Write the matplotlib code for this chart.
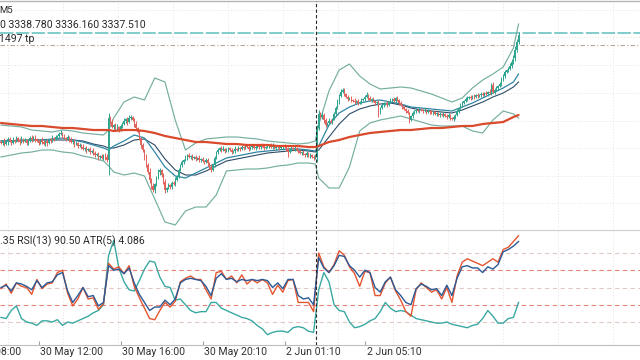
import matplotlib
matplotlib.use("Agg")
import matplotlib.pyplot as plt
import matplotlib.transforms as mtransforms
import numpy as np

plt.rcParams['font.family'] = ['Roboto', 'DejaVu Sans']

# ---------------- data ----------------
open_first = 3326.8
close = [
    3326.7,3326.9,3326.6,3326.8,3327.1,3326.9,3326.7,3327.0,3326.9,3327.2,3327.0,3326.8,3327.1,3326.9,3327.0,3326.7,3326.9,3327.2,3327.0,3327.3,3327.1,3326.9,3326.7,3327.0,3326.8,3326.6,3326.9,3326.7,3327.0,3326.9,3327.2,3327.1,3327.3,3327.4,3327.6,3327.7,3327.4,
    3327.2,3327.1,3327.3,3327.0,3326.8,3326.9,3326.6,3326.7,3326.4,3326.5,3326.3,3326.1,3326.2,3326.0,3326.1,3325.8,3325.9,3325.7,3325.5,3325.6,3325.3,3325.4,3325.2,3325.5,3325.3,
    3325.0,3329.2,
    3328.8,3328.3,3328.5,3328.1,3328.3,3328.0,3328.4,3328.6,3328.9,3329.1,3328.8,3329.2,3329.3,3329.0,3328.6,
    3328.2,3327.8,3327.2,3326.5,3326.0,3325.3,3324.5,3323.8,3323.0,3322.4,3322.0,
    3322.6,3323.2,3323.8,3324.0,3323.5,3322.8,3322.0,3322.2,3322.5,3322.3,3322.7,3322.6,3323.0,3323.4,
    3324.0,3324.5,3324.8,3325.0,3325.2,3325.5,3325.3,3325.4,3325.2,3325.3,3325.1,3325.2,3325.0,
    3325.1,3324.9,3324.8,3325.0,3324.7,3324.3,3324.0,3324.5,3325.2,
    3325.8,3326.0,3326.2,3326.0,3326.1,3325.9,3326.0,3326.2,3326.0,3325.8,3325.9,3326.1,3326.0,3326.2,3326.1,
    3326.3,3326.2,3326.4,3326.3,3326.1,3326.3,3326.4,3326.2,3326.3,3326.4,3326.3,3326.5,3326.4,3326.2,3326.3,3326.4,3326.5,3326.3,3326.4,3326.2,3326.3,3326.4,3326.2,3326.3,3326.4,3326.3,3326.1,3325.8,3326.1,3326.2,
    3326.1,3326.2,3326.0,3325.9,3325.7,3325.8,3325.6,3325.5,3325.7,3325.4,3325.5,3325.3,3325.2,3325.5,
    3328.2,3329.6,
    3329.3,3329.5,3329.0,3328.5,3328.7,3328.9,3328.8,3329.1,3329.6,
    3330.2,3330.8,3331.4,3331.8,3332.0,3331.6,3331.3,
    3331.1,3331.2,3331.0,3330.9,3330.8,3330.9,3330.7,3330.8,3331.0,3331.1,3331.3,3331.5,3331.2,3331.0,3331.1,3330.9,3330.7,3330.8,
    3329.8,3330.2,3330.5,3330.6,3330.7,3330.5,3330.8,3331.0,3331.1,3330.9,3331.2,3331.0,3330.7,3330.5,3330.3,3330.1,3329.9,3329.7,3329.0,3329.4,
    3329.7,3329.9,3330.0,3329.9,3330.1,3330.0,3329.9,3330.0,3329.8,3329.9,3329.8,3329.7,3329.8,3329.6,3329.7,3329.5,3329.6,
    3329.5,3329.6,3329.4,3329.3,3329.5,3329.2,3329.1,3329.3,3329.5,
    3329.9,3330.2,3330.5,3330.7,3330.9,3331.1,3331.2,3331.3,3331.2,3331.4,3331.3,3331.5,3331.4,3331.5,
    3331.6,3331.5,3331.7,3331.6,3331.8,3331.7,3332.5,3331.8,3332.0,3332.2,3332.4,3332.6,3333.0,3333.4,3333.8,3334.0,3334.1,3334.4,3334.8,3335.2,3336.0,3336.8,3337.5,
]
# wick lengths in tenths of a dollar
wick_up = [
    2,1,3,1,2,2,1,3,1,2,1,2,3,1,2,1,1,2,3,1,2,1,2,1,3,2,1,2,1,2,3,1,2,1,2,3,1,2,
    1,2,1,3,1,2,2,1,2,1,3,1,2,1,2,1,3,2,1,2,1,2,1,2,3,5,2,3,1,2,3,1,2,2,3,1,2,3,
    2,1,2,3,1,2,1,2,1,3,2,4,2,3,1,2,3,2,1,2,3,1,2,1,2,2,3,1,2,1,2,1,3,1,2,1,2,1,
    2,1,3,1,2,1,2,2,1,3,1,2,1,2,1,2,3,1,2,1,1,2,1,3,1,2,1,2,1,1,2,3,1,2,1,2,1,2,
    1,2,1,1,2,1,2,3,1,2,1,1,2,1,2,1,2,1,2,1,2,1,1,2,1,2,1,2,1,2,1,2,1,3,4,2,3,2,
    2,1,3,2,1,2,2,3,2,3,2,2,1,2,1,2,1,3,1,2,1,2,1,2,3,1,2,1,2,1,1,2,1,2,2,1,2,1,
    2,1,2,1,2,1,2,1,2,1,2,1,1,2,1,2,1,2,1,1,2,1,2,1,2,1,2,1,1,2,1,2,1,2,2,1,1,2,
    1,2,1,2,2,1,2,2,1,2,1,2,1,2,1,2,2,1,2,1,3,2,3,2,2,1,2,3,2,2,1,2,3,3,3,4,3,3,
]
wick_dn = [
    1,2,2,1,3,1,2,1,2,1,2,3,1,2,1,2,2,1,2,1,3,1,2,1,2,1,2,3,1,2,1,2,1,2,1,1,2,1,
    2,1,2,1,2,3,1,2,1,2,1,2,3,1,2,1,2,2,1,3,2,1,2,3,2,15,2,1,3,2,1,2,1,2,1,2,3,1,
    2,1,3,2,1,2,3,2,3,2,2,3,3,2,3,2,1,3,2,2,3,2,1,2,2,1,2,1,2,1,2,2,1,2,1,2,2,1,
    2,1,2,2,1,2,1,3,2,2,1,2,1,2,1,2,1,2,1,2,1,2,1,2,1,1,2,1,2,1,1,2,1,2,1,2,1,2,
    2,1,2,1,1,2,1,2,1,2,1,2,1,2,1,2,5,1,2,1,2,1,2,1,2,1,2,2,1,2,1,2,1,7,2,1,2,3,
    2,1,2,1,2,1,2,1,2,1,1,2,1,2,1,2,1,2,1,2,1,2,1,2,1,2,1,2,1,2,2,5,2,1,2,1,2,1,
    1,2,1,2,1,2,1,2,1,2,1,3,1,2,1,2,1,2,1,2,1,2,1,2,1,2,1,2,1,2,1,2,1,2,1,2,1,2,
    2,1,2,1,2,1,1,2,1,2,1,2,1,2,1,2,1,2,1,2,1,2,1,2,1,2,1,2,1,2,1,2,1,2,2,3,2,2,
]

# overlay indicator samples (bar index -> price)
ov_bars = [0,6,12,18,24,30,36,42,48,54,60,63,66,72,78,84,90,96,102,108,114,120,126,132,138,
           144,150,156,162,168,174,180,184,186,192,198,204,210,216,222,228,234,240,246,252,
           258,264,270,276,282,288,294,300,303]
bb_upper = [3328.5,3328.4,3328.3,3328.0,3327.9,3327.8,3328.0,3327.9,3327.7,3327.6,3327.5,3328.0,
            3329.2,3330.8,3331.3,3331.0,3333.2,3332.8,3329.0,3326.0,3326.7,3327.1,3327.2,3327.3,3327.3,
            3327.2,3327.1,3326.9,3326.8,3326.7,3326.6,3326.7,3326.9,
            3328.5,3331.9,3334.0,3334.6,3333.4,3332.6,3332.1,3332.2,3332.3,3332.2,3331.9,3331.6,
            3331.2,3330.8,3331.2,3332.2,3333.0,3333.6,3334.3,3336.2,3338.6]
bb_lower = [3325.3,3325.5,3325.7,3325.8,3326.0,3326.0,3325.8,3325.7,3325.4,3325.2,3324.9,3324.4,
            3323.8,3323.5,3323.7,3323.4,3321.1,3318.8,3318.5,3319.9,3320.3,3320.3,3321.5,3323.9,3324.0,
            3324.1,3324.1,3324.2,3324.4,3324.5,3324.7,3324.7,3324.6,
            3323.2,3322.2,3322.2,3324.3,3327.9,3328.7,3329.0,3329.2,3329.4,3329.1,3328.8,3328.5,
            3328.4,3328.4,3328.4,3327.9,3327.7,3329.0,3329.9,3329.6,3329.2]
ma_fast = [3326.9,3326.9,3327.0,3327.0,3327.0,3327.1,3327.2,3327.0,3326.8,3326.5,3326.2,3326.0,
           3326.4,3326.9,3327.5,3327.2,3325.8,3324.3,3323.4,3323.2,3323.7,3324.2,3324.7,3325.2,3325.4,
           3325.6,3325.8,3325.9,3326.0,3326.1,3326.1,3326.0,3325.9,
           3326.4,3328.5,3329.7,3330.3,3330.7,3330.9,3331.0,3330.8,3330.6,3330.3,3330.2,3330.1,
           3330.0,3329.9,3330.3,3330.7,3331.2,3331.7,3332.2,3332.8,3333.6]
ma_slow = [3326.9,3326.9,3326.9,3327.0,3327.0,3327.0,3327.0,3327.0,3326.9,3326.6,3326.4,3326.2,
           3326.2,3326.5,3327.0,3327.1,3326.5,3325.1,3324.0,3323.5,3323.5,3323.9,3324.4,3324.9,3325.1,
           3325.3,3325.5,3325.7,3325.8,3325.9,3326.0,3325.9,3325.8,
           3326.0,3327.3,3328.6,3329.6,3330.1,3330.4,3330.6,3330.7,3330.5,3330.2,3330.0,3329.9,
           3329.8,3329.7,3330.0,3330.4,3330.8,3331.3,3331.7,3332.3,3332.8]
ma_long = [3328.7,3328.6,3328.5,3328.4,3328.4,3328.3,3328.2,3328.2,3328.1,3328.0,3328.0,3328.0,
           3327.9,3328.0,3328.0,3327.9,3327.7,3327.4,3327.2,3327.0,3326.8,3326.8,3326.7,3326.6,3326.6,
           3326.5,3326.5,3326.5,3326.4,3326.4,3326.4,3326.3,3326.3,
           3326.4,3326.8,3327.0,3327.3,3327.5,3327.7,3327.8,3327.9,3328.0,3328.0,3328.1,3328.2,
           3328.2,3328.3,3328.4,3328.4,3328.6,3328.7,3328.8,3329.3,3329.5]

# oscillator panel, sampled every 3 bars
osc_bars = list(range(0, 304, 3))
rsi_red = [49,53,45,54,51,50,44,57,49,53, 54,63,65,45,34,40,50,40,41,31,
           36,71,66,68,62,69,51,41,32,23, 22,30,37,33,38,55,58,60,57,57,
           48,40,63,64,57,60,54,61,53,57, 54,57,54,44,52,46,56,57,37,37,
           37,29,80,68,63,70,82,78,68,62, 51,64,63,43,43,54,59,47,39,29,
           25,48,54,50,46,48,40,50,37,60, 72,75,73,71,69,72,75,72,83,85, 90,95]
rsi_blue = [50,52,47,54,53,51,48,56,50,54, 55,61,63,47,37,43,50,42,43,34,
            37,69,65,66,62,67,54,44,37,30, 33,33,39,35,40,54,57,58,57,56,
            51,43,58,62,57,58,55,57,56,57, 56,57,56,50,54,49,57,57,43,40,
            41,35,76,67,63,69,78,77,69,65, 59,65,63,50,46,55,59,48,43,37,
            35,49,53,51,48,49,43,52,43,58, 68,69,67,67,63,68,66,70,81,83, 86,90]
atr_teal = [24,23,30,34,23,20,19,17,21,21, 20,22,17,20,19,21,23,25,28,30,
            35,78,91,67,55,48,47,56,66,73, 72,59,51,50,39,40,35,30,28,29,
            29,37,37,32,30,28,26,24,23,21, 17,14,9,11,12,12,11,15,16,15,
            12,11,48,63,55,35,30,29,20,15, 16,18,21,23,29,37,32,29,30,29,
            26,23,22,21,20,19,19,20,18,17, 16,15,17,18,23,30,25,19,19,23, 24,37]
levels_red = [35, 65]
levels_gray = [20, 50, 80]

tick_bars = [-26, 22, 70, 118, 166, 213]
tick_labels = ['30 May 08:00', '30 May 12:00', '30 May 16:00', '30 May 20:10',
               '2 Jun 01:10', '2 Jun 05:10']
bid_price = 3337.7
tp_price = 3336.5
session_break = 184.5

header_tf = 'M5'
header_ohlc = '0 3338.780 3336.160 3337.510'
header_tp = '1497 tp'
header_osc = '.35 RSI(13) 90.50 ATR(5) 4.086'

# ---------------- styling ----------------
BULL = '#2fa58f'
BEAR = '#e2635c'
BB_C = '#74ae9f'
FAST_C = '#2f86a3'
SLOW_C = '#2e4c66'
LONG_C = '#da4a2c'
GRID_C = '#e3e3e3'
grid_bars = [4.1, 36.3, 68.5, 100.7, 132.9, 165.1, 197.3, 229.5, 261.7, 293.9, 326.1, 358.3]
grid_prices = [3340.0, 3337.3, 3334.5, 3331.7, 3328.9, 3326.2, 3323.4, 3320.7]

W, H = 640, 360
fig = plt.figure(figsize=(W / 100, H / 100), dpi=100)
fig.patch.set_facecolor('white')
ax = fig.add_axes([0, 1 - 229 / H, 1, 228 / H])
ax2 = fig.add_axes([0, 1 - 345 / H, 1, 115 / H])

for a in (ax, ax2):
    a.set_xlim(-0.585, 374.1)
    a.set_facecolor('white')
    for s in a.spines.values():
        s.set_visible(False)
    a.set_yticks([])
    for gb in grid_bars:
        a.axvline(gb, color=GRID_C, lw=0.7, ls=(0, (1, 2)), zorder=0)

ax.set_ylim(3318.1, 3340.9)
ax2.set_ylim(0, 100)
ax.set_xticks([])
ax.spines['top'].set_visible(True)
ax.spines['top'].set_color('#b5b5b5')
ax.spines['top'].set_linewidth(1.0)
ax2.spines['top'].set_visible(True)
ax2.spines['top'].set_color('#cfcfcf')
ax2.spines['top'].set_linewidth(0.8)
ax2.spines['bottom'].set_visible(True)
ax2.spines['bottom'].set_color('#bdbdbd')
ax2.spines['bottom'].set_linewidth(0.8)

for gp in grid_prices:
    ax.axhline(gp, color=GRID_C, lw=0.7, ls=(0, (1, 2)), zorder=0)

# horizontal trade lines
ax.axhline(bid_price, color='#6cc4c4', lw=1.2, ls=(0, (8, 1.5)), zorder=2)
ax.axhline(tp_price, color='#b9a394', lw=0.8, ls=(0, (4, 2, 1, 2)), zorder=2)

# overlays
ax.plot(ov_bars, bb_upper, color=BB_C, lw=0.85, zorder=3)
ax.plot(ov_bars, bb_lower, color=BB_C, lw=0.85, zorder=3)
ax.plot(ov_bars, ma_slow, color=SLOW_C, lw=0.8, zorder=3)
ax.plot(ov_bars, ma_fast, color=FAST_C, lw=0.9, zorder=3)

# candles
c = np.array(close)
o = np.r_[open_first, c[:-1]]
x = np.arange(len(c))
hi = np.maximum(o, c) + np.array(wick_up[:len(c)]) / 10.0
lo = np.minimum(o, c) - np.array(wick_dn[:len(c)]) / 10.0
cols = np.where(c >= o, BULL, BEAR)
ax.vlines(x, lo, hi, colors=cols, lw=0.7, zorder=4)
body = np.maximum(np.abs(c - o), 0.06)
ax.bar(x, body, bottom=np.minimum(o, c), width=0.75, color=cols, linewidth=0, zorder=4)

ax.plot(ov_bars, ma_long, color=LONG_C, lw=1.6, zorder=5, solid_capstyle='round')

# oscillator panel
for lv in levels_gray:
    ax2.axhline(lv, color='#e2c9c6', lw=0.8, ls=(0, (4, 3)), zorder=1)
for lv in levels_red:
    ax2.axhline(lv, color='#e6837a', lw=0.8, ls=(0, (4, 3)), zorder=1)
ax2.plot(osc_bars, atr_teal, color='#3aa8a2', lw=1.0, zorder=3)
ax2.plot(osc_bars, rsi_red, color='#e4552f', lw=1.0, zorder=3)
ax2.plot(osc_bars, rsi_blue, color='#2b5a96', lw=1.0, zorder=4)

# session separator
for a in (ax, ax2):
    a.axvline(session_break, color='#2a2a2a', lw=0.8, ls=(0, (3, 2)), zorder=6)

# time axis
ax2.set_xticks([t for t in tick_bars if t >= 0])
ax2.set_xticklabels([])
ax2.tick_params(axis='x', direction='in', length=3, width=0.8, color='#a0a0a0')
trans = mtransforms.blended_transform_factory(ax2.transData, ax2.transAxes)
for tb, tl in zip(tick_bars, tick_labels):
    ax2.text(tb + 1.0, -0.062, tl, transform=trans, ha='left', va='center',
             fontsize=7.6, color='#333333', clip_on=False)

# header texts
def ftext(px, py, s, size=7.6):
    fig.text(px / W, 1 - py / H, s, ha='left', va='center', fontsize=size, color='#2a2a2a')

ftext(-1, 10.5, header_tf, 6.8)
ftext(0, 25.5, header_ohlc)
ftext(-1, 39, header_tp)
ftext(0, 241, header_osc)

fig.savefig('out.png', dpi=100, facecolor='white')
